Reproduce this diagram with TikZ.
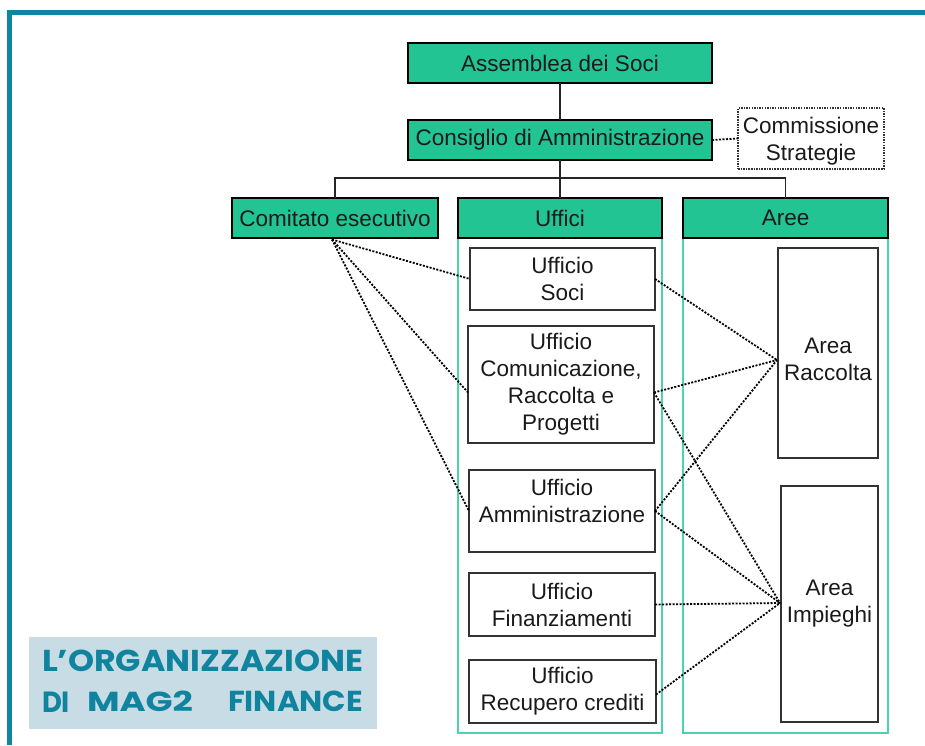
\documentclass[tikz,border=0pt]{standalone}
\usepackage{fontspec}
\usepackage{graphicx}
\setmainfont{Liberation Sans}
\newfontfamily\titlefont{Poppins}
\usetikzlibrary{calc}
\definecolor{frameteal}{HTML}{0E86A0}
\definecolor{boxgreen}{HTML}{22C494}
\definecolor{colgreen}{HTML}{4CD2AE}
\definecolor{titlebg}{HTML}{C8DCE5}
\definecolor{titletext}{HTML}{10849E}
\definecolor{boxline}{HTML}{333333}
\definecolor{textdark}{HTML}{1A1A1A}
\begin{document}
\begin{tikzpicture}[x=1pt,y=-1pt,
  every node/.style={font=\fontsize{22.5}{27}\selectfont, text=textdark, inner sep=0pt, outer sep=0pt, align=center},
  gbox/.style={draw=black, line width=1.8pt, fill=boxgreen},
  wbox/.style={draw=boxline, line width=1.8pt, fill=white},
  dbox/.style={draw=boxline, line width=1.5pt, dash pattern=on 1.5pt off 1.1pt, fill=white},
  colbox/.style={draw=colgreen, line width=1.5pt},
  solidline/.style={draw=black!85, line width=1.6pt},
  dotline/.style={draw=black, line width=1.8pt, dash pattern=on 2pt off 1.5pt},
  ttl/.style={text=titletext, anchor=south west}
]
\useasboundingbox (0,0) rectangle (925,745);
\fill[white] (0,0) rectangle (925,745);
% frame
\fill[frameteal] (7,10) rectangle (925,15);
\fill[frameteal] (7,10) rectangle (12,745);

% columns
\node[colbox, minimum width=204pt, minimum height=495pt] (ucol) at (560,485.5) {};
\node[colbox, minimum width=205pt, minimum height=495pt] (acol) at (785.5,485.5) {};

% top boxes
\node[gbox, minimum width=304pt, minimum height=40pt] (assemblea) at (560,63) {Assemblea dei Soci};
\node[gbox, minimum width=304pt, minimum height=40pt] (consiglio) at (560,140) {Consiglio di Amministrazione};
\node[dbox, minimum width=146pt, minimum height=61pt] (commissione) at (811,138.5) {};
\node (commtext) at (811,141.5) {Commissione\\Strategie};
\node[gbox, minimum width=206pt, minimum height=40pt] (comitato) at (335,218) {Comitato esecutivo};
\node[gbox, minimum width=204pt, minimum height=40pt] (uffici) at (560,218) {Uffici};
\node[gbox, minimum width=205pt, minimum height=40pt] (aree) at (785.5,218) {Aree};

% offices
\node[wbox, minimum width=185pt, minimum height=62pt] (soci) at (562.5,279) {Ufficio\\Soci};
\node[wbox, minimum width=186pt, minimum height=117pt] (comun) at (561,384.5) {Ufficio\\Comunicazione,\\Raccolta e\\Progetti};
\node[wbox, minimum width=186pt, minimum height=82pt] (amm) at (562,511) {};
\node (ammtext) at (562,500.5) {Ufficio\\Amministrazione};
\node[wbox, minimum width=186pt, minimum height=63pt] (fin) at (562,604.5) {Ufficio\\Finanziamenti};
\node[wbox, minimum width=187pt, minimum height=63pt] (rec) at (562.5,691.5) {Ufficio\\Recupero crediti};

% areas
\node[wbox, minimum width=100pt, minimum height=210pt] (raccolta) at (828,353) {};
\node (racctext) at (828,359) {Area\\Raccolta};
\node[wbox, minimum width=97pt, minimum height=236pt] (impieghi) at (829.5,604) {};
\node (impitext) at (829.5,604) {Area\\Impieghi};

% title
\node[fill=titlebg, minimum width=348pt, minimum height=92pt] (titlebox) at (203,683) {};
\node[ttl] (t1) at (42,672) {\resizebox{321pt}{21.5pt}{\titlefont\bfseries L’ORGANIZZAZIONE}};
\node[ttl] (t2a) at (42,712) {\resizebox{28pt}{20.5pt}{\titlefont\bfseries DI}};
\node[ttl] (t2b) at (87,712) {\resizebox{106pt}{20.5pt}{\titlefont\bfseries MAG2}};
\node[ttl] (t2c) at (228,712) {\resizebox{135pt}{20.5pt}{\titlefont\bfseries FINANCE}};

% hierarchy connectors
\coordinate (bus) at (560,178);
\draw[solidline] (assemblea.south) -- (consiglio.north);
\draw[solidline] (consiglio.south) -- (uffici.north);
\draw[solidline] (comitato.north) |- (bus) -| (aree.north);
\draw[dotline] (consiglio.east) -- (commissione.west);

% dotted relations
\coordinate (ce) at (332,239.5);
\coordinate (rp) at (777,360);
\coordinate (ip) at (780,603);
\draw[dotline] (ce) -- (soci.west);
\draw[dotline] (ce) -- ($(comun.west)+(0,8)$);
\draw[dotline] (ce) -- (amm.west);
\draw[dotline] (soci.east) -- (rp);
\draw[dotline] ($(comun.east)+(0,8)$) -- (rp);
\draw[dotline] (amm.east) -- (rp);
\draw[dotline] ($(comun.east)+(0,8)$) -- (ip);
\draw[dotline] (amm.east) -- (ip);
\draw[dotline] (fin.east) -- (ip);
\draw[dotline] ($(rec.east)+(0,3)$) -- (ip);
\end{tikzpicture}
\end{document}
